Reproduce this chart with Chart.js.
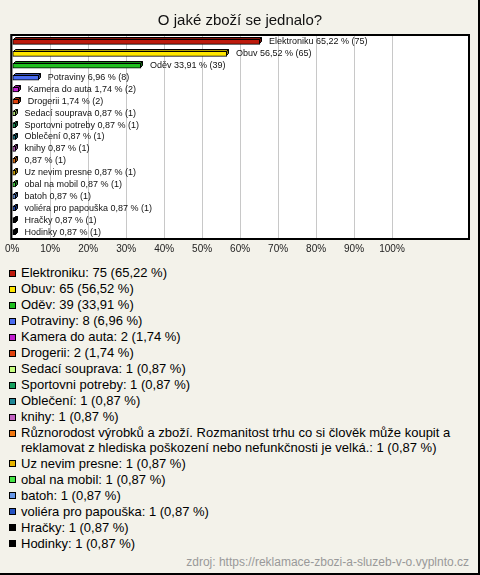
<!DOCTYPE html>
<html>
<head>
<meta charset="utf-8">
<script src="https://cdn.jsdelivr.net/npm/chart.js@4/dist/chart.umd.min.js"></script>
<style>
  html, body { margin: 0; padding: 0; background: #f3f2ea; }
  #wrap { position: relative; width: 480px; height: 575px; box-sizing: border-box;
          border-right: 2px solid #000; border-bottom: 2px solid #000; background: #f3f2ea;
          font-family: Arial, "Liberation Sans", sans-serif; overflow: hidden; }
  #c { position: absolute; left: 0; top: 0; }
  #legend { position: absolute; left: 0; top: 266px; width: 470px; }
  .item { position: relative; padding-left: 21px; font-size: 13px; line-height: 14.5px;
          margin-bottom: 1.5px; color: #000; }
  .sw { position: absolute; left: 9px; top: 3.5px; width: 5px; height: 5px; border: 1px solid #000; }
  #src { position: absolute; right: 9px; top: 555px; font-size: 12px; line-height: 14px; color: #999; }
</style>
</head>
<body>
<div id="wrap">
  <canvas id="c" width="480" height="258"></canvas>
  <div id="legend"></div>
  <div id="src">zdroj: https://reklamace-zbozi-a-sluzeb-v-o.vyplnto.cz</div>
</div>
<script>
const title = 'O jaké zboží se jednalo?';
const categories = [
  'Elektroniku', 'Obuv', 'Oděv', 'Potraviny', 'Kamera do auta', 'Drogerii',
  'Sedací souprava', 'Sportovni potreby', 'Oblečení', 'knihy',
  'Různorodost výrobků a zboží. Rozmanitost trhu co si člověk může koupit a reklamovat z hlediska poškození nebo nefunkčnosti je velká.',
  'Uz nevim presne', 'obal na mobil', 'batoh', 'voliéra pro papouška', 'Hračky', 'Hodinky'
];
const barNames = [
  'Elektroniku', 'Obuv', 'Oděv', 'Potraviny', 'Kamera do auta', 'Drogerii',
  'Sedací souprava', 'Sportovni potreby', 'Oblečení', 'knihy',
  '',
  'Uz nevim presne', 'obal na mobil', 'batoh', 'voliéra pro papouška', 'Hračky', 'Hodinky'
];
const counts = [75, 65, 39, 8, 2, 2, 1, 1, 1, 1, 1, 1, 1, 1, 1, 1, 1];
const percents = [65.22, 56.52, 33.91, 6.96, 1.74, 1.74, 0.87, 0.87, 0.87, 0.87, 0.87, 0.87, 0.87, 0.87, 0.87, 0.87, 0.87];
const colors = [
  '#bd1a0c', '#ffe600', '#1fbf1f', '#4a6cf0', '#c21fd0', '#e0420e',
  '#c6ff80', '#17a05e', '#1f8696', '#c262c2', '#f07812',
  '#e6b400', '#44e444', '#6898e8', '#2452c2', '#000000', '#000000'
];
const xTickValues = [0, 10, 20, 30, 40, 50, 60, 70, 80, 90, 100];
const source = 'zdroj: https://reklamace-zbozi-a-sluzeb-v-o.vyplnto.cz';

const fmt = v => v.toFixed(2).replace('.', ',');

function shade(hex, f) {
  const n = parseInt(hex.slice(1), 16);
  const r = Math.round(((n >> 16) & 255) * f), g = Math.round(((n >> 8) & 255) * f), b = Math.round((n & 255) * f);
  return 'rgb(' + r + ',' + g + ',' + b + ')';
}

// legend (HTML, generated from arrays)
const leg = document.getElementById('legend');
categories.forEach((c, i) => {
  const d = document.createElement('div');
  d.className = 'item';
  const s = document.createElement('span');
  s.className = 'sw';
  s.style.background = colors[i];
  d.appendChild(s);
  d.appendChild(document.createTextNode(c + ': ' + counts[i] + ' (' + fmt(percents[i]) + ' %)'));
  leg.appendChild(d);
});
document.getElementById('src').textContent = source;

const boxPlugin = {
  id: 'box',
  beforeDraw(chart) {
    const ctx = chart.ctx, a = chart.chartArea;
    ctx.save();
    ctx.fillStyle = '#ffffff';
    ctx.fillRect(a.left - 2, a.top - 2, a.right - a.left + 4, a.bottom - a.top + 4);
    ctx.restore();
  },
  afterDraw(chart) {
    const ctx = chart.ctx, a = chart.chartArea;
    ctx.save();
    ctx.strokeStyle = '#000';
    ctx.lineWidth = 2;
    ctx.strokeRect(a.left - 1, a.top - 1, a.right - a.left + 2, a.bottom - a.top + 2);
    ctx.restore();
  }
};

const D = 2;
const bar3d = {
  id: 'bar3d',
  afterDatasetsDraw(chart) {
    const ctx = chart.ctx;
    const meta = chart.getDatasetMeta(0);
    ctx.save();
    ctx.lineWidth = 1;
    ctx.strokeStyle = '#000';
    meta.data.forEach((el, i) => {
      const p = el.getProps(['x', 'y', 'base', 'height'], true);
      const top = Math.round(p.y - p.height / 2) + 0.5;
      const bot = Math.round(p.y + p.height / 2) - 0.5;
      const x0 = Math.round(p.base) + 0.5, x1 = Math.round(p.x) - 0.5;
      ctx.fillStyle = shade(colors[i], 0.7);
      ctx.beginPath();
      ctx.moveTo(x0, top); ctx.lineTo(x0 + D, top - D); ctx.lineTo(x1 + D, top - D); ctx.lineTo(x1, top);
      ctx.closePath(); ctx.fill(); ctx.stroke();
      ctx.fillStyle = shade(colors[i], 0.55);
      ctx.beginPath();
      ctx.moveTo(x1, top); ctx.lineTo(x1 + D, top - D); ctx.lineTo(x1 + D, bot - D); ctx.lineTo(x1, bot);
      ctx.closePath(); ctx.fill(); ctx.stroke();
      // label
      ctx.fillStyle = '#111';
      ctx.font = '9px Arial, "Liberation Sans", sans-serif';
      ctx.textBaseline = 'middle';
      ctx.textAlign = 'left';
      const txt = (barNames[i] ? barNames[i] + ' ' : '') + fmt(percents[i]) + ' % (' + counts[i] + ')';
      ctx.fillText(txt, p.x + D + 7, p.y);
    });
    ctx.restore();
  }
};

Chart.defaults.font.family = 'Arial, "Liberation Sans", sans-serif';

new Chart(document.getElementById('c'), {
  type: 'bar',
  data: {
    labels: categories,
    datasets: [{
      data: percents,
      backgroundColor: colors,
      borderColor: '#000',
      borderWidth: 1,
      borderSkipped: false,
      barThickness: 5
    }]
  },
  options: {
    indexAxis: 'y',
    responsive: false,
    animation: false,
    events: [],
    layout: { padding: { left: 12, right: 12, top: 0, bottom: 0 } },
    plugins: {
      legend: { display: false },
      tooltip: { enabled: false },
      title: {
        display: true,
        text: title,
        color: '#111',
        font: { size: 15, weight: 'normal' },
        padding: { top: 12, bottom: 6 }
      }
    },
    scales: {
      x: {
        min: 0,
        max: 120,
        afterBuildTicks(scale) {
          scale.ticks = xTickValues.map(v => ({ value: v }));
        },
        afterFit(scale) { scale.height = 20; },
        border: { display: false },
        grid: { color: '#c8c8c8', drawTicks: false, tickLength: 0 },
        ticks: {
          padding: 5,
          color: '#222',
          font: { size: 10 },
          maxRotation: 0,
          autoSkip: false,
          callback: v => v + '%'
        }
      },
      y: {
        display: false,
        offset: true,
        grid: { display: false }
      }
    }
  },
  plugins: [boxPlugin, bar3d]
});
</script>
</body>
</html>
